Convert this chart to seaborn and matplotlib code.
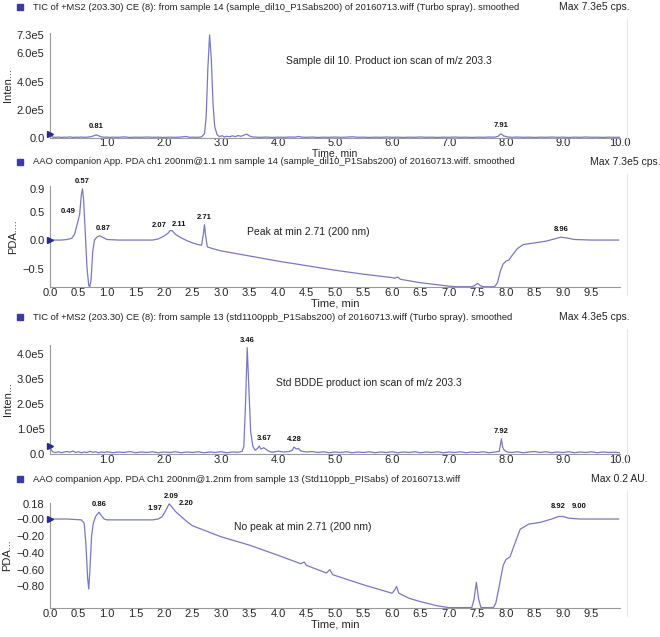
import matplotlib
matplotlib.use('Agg')
import numpy as np
import pandas as pd
import seaborn as sns
import matplotlib.pyplot as plt
from matplotlib.patches import Rectangle
from matplotlib.lines import Line2D
from matplotlib.ticker import MultipleLocator

# ---- panel 1: TIC of sample dil 10 (time min, cps) ----
tic_sample = [
    (0.00, 0.28e5), (0.02, 0.15e5), (0.05, 0.06e5), (0.10, 0.05e5), (0.15, 0.07e5), (0.20, 0.04e5),
    (0.25, 0.06e5), (0.30, 0.05e5), (0.35, 0.08e5), (0.40, 0.04e5), (0.45, 0.06e5), (0.50, 0.05e5),
    (0.55, 0.07e5), (0.60, 0.05e5), (0.65, 0.06e5), (0.70, 0.08e5), (0.75, 0.13e5), (0.81, 0.22e5),
    (0.86, 0.14e5), (0.90, 0.08e5), (0.95, 0.05e5), (1.00, 0.07e5), (1.05, 0.04e5), (1.10, 0.06e5),
    (1.20, 0.05e5), (1.30, 0.08e5), (1.40, 0.04e5), (1.50, 0.06e5), (1.60, 0.05e5), (1.70, 0.07e5),
    (1.80, 0.05e5), (1.90, 0.06e5), (2.00, 0.04e5), (2.10, 0.06e5), (2.20, 0.05e5), (2.30, 0.07e5),
    (2.38, 0.11e5), (2.45, 0.05e5), (2.50, 0.06e5), (2.60, 0.05e5), (2.66, 0.08e5), (2.71, 0.30e5),
    (2.74, 1.5e5), (2.77, 5.0e5), (2.80, 7.3e5), (2.83, 5.6e5), (2.86, 2.4e5), (2.89, 0.8e5),
    (2.93, 0.25e5), (2.97, 0.10e5), (3.02, 0.16e5), (3.06, 0.07e5), (3.10, 0.12e5), (3.15, 0.09e5),
    (3.20, 0.15e5), (3.25, 0.10e5), (3.30, 0.17e5), (3.35, 0.12e5), (3.40, 0.20e5), (3.45, 0.28e5),
    (3.50, 0.14e5), (3.55, 0.08e5), (3.62, 0.06e5), (3.70, 0.05e5), (3.80, 0.07e5), (3.90, 0.04e5),
    (4.00, 0.06e5), (4.10, 0.05e5), (4.20, 0.07e5), (4.30, 0.06e5), (4.36, 0.11e5), (4.42, 0.06e5),
    (4.50, 0.05e5), (4.60, 0.07e5), (4.70, 0.04e5), (4.80, 0.06e5), (4.90, 0.05e5), (5.00, 0.07e5),
    (5.10, 0.05e5), (5.20, 0.06e5), (5.30, 0.09e5), (5.40, 0.05e5), (5.50, 0.06e5), (5.60, 0.04e5),
    (5.70, 0.06e5), (5.80, 0.05e5), (5.90, 0.07e5), (6.00, 0.05e5), (6.10, 0.06e5), (6.20, 0.04e5),
    (6.30, 0.06e5), (6.40, 0.05e5), (6.50, 0.07e5), (6.60, 0.05e5), (6.70, 0.06e5), (6.80, 0.04e5),
    (6.90, 0.06e5), (7.00, 0.05e5), (7.10, 0.07e5), (7.20, 0.05e5), (7.30, 0.06e5), (7.40, 0.04e5),
    (7.50, 0.06e5), (7.60, 0.05e5), (7.70, 0.07e5), (7.80, 0.06e5), (7.86, 0.12e5), (7.91, 0.30e5),
    (7.96, 0.15e5), (8.02, 0.08e5), (8.10, 0.05e5), (8.20, 0.07e5), (8.30, 0.05e5), (8.40, 0.06e5),
    (8.50, 0.04e5), (8.60, 0.06e5), (8.70, 0.05e5), (8.80, 0.07e5), (8.90, 0.05e5), (9.00, 0.06e5),
    (9.10, 0.04e5), (9.20, 0.06e5), (9.30, 0.05e5), (9.40, 0.07e5), (9.50, 0.05e5), (9.60, 0.06e5),
    (9.70, 0.04e5), (9.80, 0.06e5), (9.90, 0.05e5), (10.00, 0.05e5),
]
tic_sample_peaks = [0.81, 7.91]

# ---- panel 2: PDA 200 nm of sample dil 10 (time min, AU) ----
pda_sample = [
    (0.00, 0.00), (0.10, 0.00), (0.20, 0.00), (0.30, 0.01), (0.38, 0.03), (0.43, 0.10),
    (0.47, 0.25), (0.49, 0.33), (0.52, 0.45), (0.55, 0.80), (0.57, 0.90), (0.59, 0.70),
    (0.62, 0.10), (0.65, -0.50), (0.68, -0.80), (0.70, -0.82), (0.72, -0.70), (0.75, -0.20),
    (0.78, 0.00), (0.82, 0.05), (0.87, 0.075), (0.92, 0.05), (1.00, 0.01), (1.20, 0.00),
    (1.50, 0.00), (1.80, 0.00), (1.90, 0.02), (2.00, 0.07), (2.07, 0.12), (2.11, 0.17),
    (2.15, 0.16), (2.20, 0.10), (2.30, 0.04), (2.40, -0.01), (2.50, -0.05), (2.60, -0.08),
    (2.66, -0.09), (2.69, 0.10), (2.71, 0.27), (2.73, 0.08), (2.76, -0.12), (2.85, -0.15),
    (3.00, -0.19), (3.50, -0.28), (4.00, -0.37), (4.50, -0.45), (5.00, -0.53), (5.50, -0.60),
    (6.00, -0.66), (6.05, -0.67), (6.10, -0.65), (6.15, -0.69), (6.50, -0.75), (7.00, -0.81),
    (7.15, -0.82), (7.40, -0.82), (7.45, -0.80), (7.50, -0.76), (7.55, -0.80), (7.60, -0.82),
    (7.80, -0.82), (7.85, -0.75), (7.90, -0.55), (7.95, -0.42), (8.00, -0.37), (8.05, -0.35),
    (8.10, -0.28), (8.20, -0.15), (8.30, -0.08), (8.50, -0.05), (8.70, -0.02), (8.85, 0.02),
    (8.96, 0.05), (9.05, 0.04), (9.20, 0.01), (9.50, 0.00), (9.98, 0.00),
]
pda_sample_peaks = [0.49, 0.57, 0.87, 2.07, 2.11, 2.71, 8.96]

# ---- panel 3: TIC of standard BDDE (time min, cps) ----
tic_std = [
    (0.00, 0.32e5), (0.02, 0.18e5), (0.05, 0.08e5), (0.10, 0.06e5), (0.15, 0.09e5), (0.20, 0.05e5),
    (0.25, 0.08e5), (0.30, 0.10e5), (0.35, 0.07e5), (0.40, 0.12e5), (0.45, 0.06e5), (0.50, 0.09e5),
    (0.55, 0.05e5), (0.60, 0.08e5), (0.65, 0.06e5), (0.70, 0.11e5), (0.75, 0.07e5), (0.80, 0.09e5),
    (0.85, 0.05e5), (0.90, 0.08e5), (0.95, 0.06e5), (1.00, 0.09e5), (1.10, 0.05e5), (1.20, 0.08e5),
    (1.30, 0.06e5), (1.40, 0.10e5), (1.50, 0.05e5), (1.60, 0.08e5), (1.70, 0.06e5), (1.80, 0.09e5),
    (1.90, 0.05e5), (2.00, 0.08e5), (2.10, 0.06e5), (2.20, 0.09e5), (2.30, 0.05e5), (2.40, 0.08e5),
    (2.50, 0.06e5), (2.60, 0.09e5), (2.70, 0.05e5), (2.80, 0.08e5), (2.90, 0.06e5), (3.00, 0.09e5),
    (3.10, 0.05e5), (3.20, 0.08e5), (3.30, 0.07e5), (3.37, 0.10e5), (3.40, 0.30e5), (3.43, 2.0e5),
    (3.46, 4.25e5), (3.49, 2.6e5), (3.52, 0.9e5), (3.56, 0.30e5), (3.60, 0.15e5), (3.64, 0.22e5),
    (3.67, 0.32e5), (3.70, 0.20e5), (3.75, 0.25e5), (3.80, 0.17e5), (3.85, 0.10e5), (3.90, 0.07e5),
    (4.00, 0.11e5), (4.10, 0.08e5), (4.20, 0.10e5), (4.25, 0.15e5), (4.28, 0.28e5), (4.32, 0.20e5),
    (4.36, 0.22e5), (4.40, 0.12e5), (4.50, 0.08e5), (4.60, 0.10e5), (4.70, 0.06e5), (4.80, 0.09e5),
    (4.90, 0.05e5), (5.00, 0.08e5), (5.10, 0.06e5), (5.20, 0.09e5), (5.30, 0.05e5), (5.40, 0.08e5),
    (5.50, 0.06e5), (5.60, 0.09e5), (5.70, 0.05e5), (5.80, 0.08e5), (5.90, 0.06e5), (6.00, 0.09e5),
    (6.10, 0.05e5), (6.20, 0.08e5), (6.30, 0.06e5), (6.40, 0.09e5), (6.50, 0.05e5), (6.60, 0.08e5),
    (6.70, 0.06e5), (6.80, 0.09e5), (6.90, 0.05e5), (7.00, 0.08e5), (7.10, 0.06e5), (7.20, 0.09e5),
    (7.30, 0.05e5), (7.40, 0.08e5), (7.50, 0.06e5), (7.60, 0.09e5), (7.70, 0.05e5), (7.80, 0.08e5),
    (7.88, 0.10e5), (7.90, 0.35e5), (7.92, 0.60e5), (7.94, 0.28e5), (7.97, 0.15e5), (8.02, 0.08e5),
    (8.10, 0.06e5), (8.20, 0.09e5), (8.30, 0.05e5), (8.40, 0.08e5), (8.50, 0.10e5), (8.60, 0.06e5),
    (8.70, 0.09e5), (8.80, 0.05e5), (8.90, 0.08e5), (9.00, 0.06e5), (9.10, 0.09e5), (9.20, 0.05e5),
    (9.30, 0.08e5), (9.40, 0.06e5), (9.50, 0.09e5), (9.60, 0.05e5), (9.70, 0.08e5), (9.80, 0.06e5),
    (9.90, 0.07e5), (10.00, 0.05e5),
]
tic_std_peaks = [3.46, 3.67, 4.28, 7.92]

# ---- panel 4: PDA 200 nm of standard (time min, AU) ----
pda_std = [
    (0.00, 0.00), (0.30, 0.00), (0.55, -0.01), (0.60, -0.05), (0.63, -0.30), (0.66, -0.70),
    (0.68, -0.83), (0.70, -0.60), (0.73, -0.20), (0.76, -0.05), (0.80, 0.03), (0.86, 0.08),
    (0.90, 0.04), (0.95, 0.00), (1.00, -0.01), (1.50, -0.01), (1.80, -0.01), (1.90, 0.00),
    (1.97, 0.03), (2.03, 0.10), (2.09, 0.18), (2.13, 0.15), (2.20, 0.09), (2.30, 0.03),
    (2.40, -0.03), (2.50, -0.08), (3.00, -0.21), (3.50, -0.31), (4.00, -0.43), (4.40, -0.53),
    (4.46, -0.51), (4.50, -0.55), (4.85, -0.64), (4.91, -0.60), (4.96, -0.66), (5.50, -0.78),
    (6.00, -0.88), (6.05, -0.84), (6.08, -0.80), (6.12, -0.88), (6.30, -0.94), (6.50, -0.98),
    (6.80, -1.03), (7.00, -1.05), (7.40, -1.05), (7.44, -0.95), (7.48, -0.75), (7.52, -0.95),
    (7.56, -1.05), (7.78, -1.05), (7.82, -1.00), (7.88, -0.80), (7.95, -0.55), (8.00, -0.48),
    (8.07, -0.45), (8.15, -0.30), (8.25, -0.12), (8.40, -0.06), (8.60, -0.04), (8.80, 0.00),
    (8.92, 0.03), (9.00, 0.03), (9.10, 0.01), (9.30, 0.00), (9.98, 0.00),
]
pda_std_peaks = [0.86, 1.97, 2.09, 2.20, 8.92, 9.00]

titles = [
    'TIC of +MS2 (203.30) CE (8): from sample 14 (sample_dil10_P1Sabs200) of 20160713.wiff (Turbo spray). smoothed',
    'AAO companion App. PDA ch1 200nm@1.1 nm sample 14 (sample_dil10_P1Sabs200) of 20160713.wiff. smoothed',
    'TIC of +MS2 (203.30) CE (8): from sample 13 (std1100ppb_P1Sabs200) of 20160713.wiff (Turbo spray). smoothed',
    'AAO companion App. PDA Ch1 200nm@1.2nm from sample 13 (Std110ppb_PISabs) of 20160713.wiff',
]
max_texts = ['Max 7.3e5 cps.', 'Max 7.3e5 cps.', 'Max 4.3e5 cps.', 'Max 0.2 AU.']
notes = [
    'Sample dil 10. Product ion scan of m/z 203.3',
    'Peak at min 2.71 (200 nm)',
    'Std BDDE product ion scan of m/z 203.3',
    'No peak at min 2.71 (200 nm)',
]
y_names = ['Inten...', 'PDA....', 'Inten...', 'PDA...']

tic_sample_yticks = [0, 2e5, 4e5, 6e5, 7.3e5]
tic_sample_ylabels = ['0.0', '2.0e5', '4.0e5', '6.0e5', '7.3e5']
pda_sample_yticks = [-0.5, 0.0, 0.5, 0.9]
pda_sample_ylabels = ['\u22120.5', '0.0', '0.5', '0.9']
tic_std_yticks = [0, 1e5, 2e5, 3e5, 4e5]
tic_std_ylabels = ['0.0', '1.0e5', '2.0e5', '3.0e5', '4.0e5']
pda_std_yticks = [-0.8, -0.6, -0.4, -0.2, 0.0, 0.18]
pda_std_ylabels = ['\u22120.80', '\u22120.60', '\u22120.40', '\u22120.20', '\u22120.00', '0.18']
tic_xticks = [1, 2, 3, 4, 5, 6, 7, 8, 9, 10]
pda_xticks = [0, 0.5, 1, 1.5, 2, 2.5, 3, 3.5, 4, 4.5, 5, 5.5, 6, 6.5, 7, 7.5, 8, 8.5, 9, 9.5]

sns.set_style('white')
plt.rcParams['font.family'] = ['Liberation Sans', 'DejaVu Sans']

W, H = 660, 637
fig = plt.figure(figsize=(W / 100, H / 100), dpi=100)


def box(l, t, r, b):
    return [l / W, 1 - b / H, (r - l) / W, (b - t) / H]


line_col = '#7878c4'
mark_col = '#2a2a90'

panels = [
    dict(data=tic_sample, peaks=tic_sample_peaks, yt=tic_sample_yticks, yl=tic_sample_ylabels,
         xt=tic_xticks, ylim=(0, 7.44e5), ymin=0.5e5, rect=(50, 33, 620, 138), title_y=7,
         max_x=559, note_xy=(389, 61), xlab=True, xpad=0, xsize=7.5, tpad=0,
         offs={0.81: (0, 5), 7.91: (0, 5)}),
    dict(data=pda_sample, peaks=pda_sample_peaks, yt=pda_sample_yticks, yl=pda_sample_ylabels,
         xt=pda_xticks, ylim=(-0.825, 0.95), ymin=0.1, rect=(50, 186, 620, 287), title_y=162,
         max_x=590, note_xy=(308, 232), xlab=True, xpad=0, xsize=8, tpad=1,
         offs={0.49: (-10, 6), 0.57: (0, 4), 0.87: (4, 4), 2.07: (-9, 4), 2.11: (9, 2),
               2.71: (0, 4), 8.96: (0, 4)}),
    dict(data=tic_std, peaks=tic_std_peaks, yt=tic_std_yticks, yl=tic_std_ylabels,
         xt=tic_xticks, ylim=(0, 4.36e5), ymin=0.5e5, rect=(50, 345, 620, 454), title_y=317,
         max_x=559, note_xy=(369, 383), xlab=False, xpad=0, xsize=8, tpad=1,
         offs={3.46: (0, 4), 3.67: (5, 4), 4.28: (0, 4), 7.92: (0, 4)}),
    dict(data=pda_std, peaks=pda_std_peaks, yt=pda_std_yticks, yl=pda_std_ylabels,
         xt=pda_xticks, ylim=(-1.055, 0.19), ymin=0.05, rect=(50, 503, 620, 608), title_y=479,
         max_x=591, note_xy=(303, 527), xlab=True, xpad=0, xsize=8, tpad=1,
         offs={0.86: (0, 4), 1.97: (-7, 4), 2.09: (2, 4), 2.20: (11, 4), 8.92: (0, 6),
               9.00: (16, 6)}),
]

for i, p in enumerate(panels):
    l, t, r, b = p['rect']
    ax = fig.add_axes(box(l, t, r, b))
    df = pd.DataFrame(p['data'], columns=['time', 'value'])
    sns.lineplot(data=df, x='time', y='value', ax=ax, color=line_col, linewidth=0.9,
                 sort=False, estimator=None)
    ax.plot(df['time'].iloc[:1], df['value'].iloc[:1], marker='>', color=mark_col,
            markersize=4.5, clip_on=False, zorder=5)
    ax.set_xlim(0, 10)
    ax.set_ylim(*p['ylim'])
    ax.set_xticks(p['xt'])
    ax.set_xticklabels([f'{v:.1f}' for v in p['xt']])
    ax.set_yticks(p['yt'])
    ax.set_yticklabels(p['yl'])
    ax.xaxis.set_minor_locator(MultipleLocator(0.1))
    ax.yaxis.set_minor_locator(MultipleLocator(p['ymin']))
    for s in ['top', 'right']:
        ax.spines[s].set_visible(False)
    for s in ['left', 'bottom']:
        ax.spines[s].set_color('#9a9a9a')
        ax.spines[s].set_linewidth(0.8)
    ax.tick_params(axis='both', which='major', direction='out', length=3, width=0.6,
                   color='#8a8a8a', labelsize=8, pad=1)
    ax.tick_params(axis='both', which='minor', direction='in', length=2, width=0.5,
                   color='#9a9a9a')
    ax.tick_params(axis='x', which='major', direction='in', length=3, pad=p['tpad'])
    ax.set_xlabel('Time, min' if p['xlab'] else '', fontsize=p['xsize'], labelpad=p['xpad'])
    ax.set_ylabel(y_names[i], fontsize=8, labelpad=3)
    ax.patch.set_alpha(0)

    lookup = dict(zip(df['time'], df['value']))
    for pk in p['peaks']:
        dx, dy = p['offs'][pk]
        ax.annotate(f'{pk:.2f}', xy=(pk, lookup[pk]), xytext=(dx, dy),
                    textcoords='offset pixels', ha='center', va='bottom',
                    fontsize=5.5, fontweight='bold', color='#111111')

    fig.patches.append(Rectangle((17 / W, 1 - (p['title_y'] + 3) / H), 6 / W, 6 / H,
                                 transform=fig.transFigure, color='#3b3ba8'))
    fig.text(33 / W, 1 - p['title_y'] / H, titles[i], fontsize=6.75, va='center',
             ha='left', color='#222222')
    fig.text(p['max_x'] / W, 1 - p['title_y'] / H, max_texts[i], fontsize=7.5,
             va='center', ha='left', color='#222222')
    nx, ny = p['note_xy']
    fig.text(nx / W, 1 - ny / H, notes[i], fontsize=7.5, va='center', ha='center',
             color='#222222')
    fig.lines.append(Line2D([627 / W, 627 / W], [1 - (p['title_y'] + 12) / H, 1 - (b + 8) / H],
                            transform=fig.transFigure, color='#e6e6e6', linewidth=0.8))

fig.savefig('out.png', dpi=100)
